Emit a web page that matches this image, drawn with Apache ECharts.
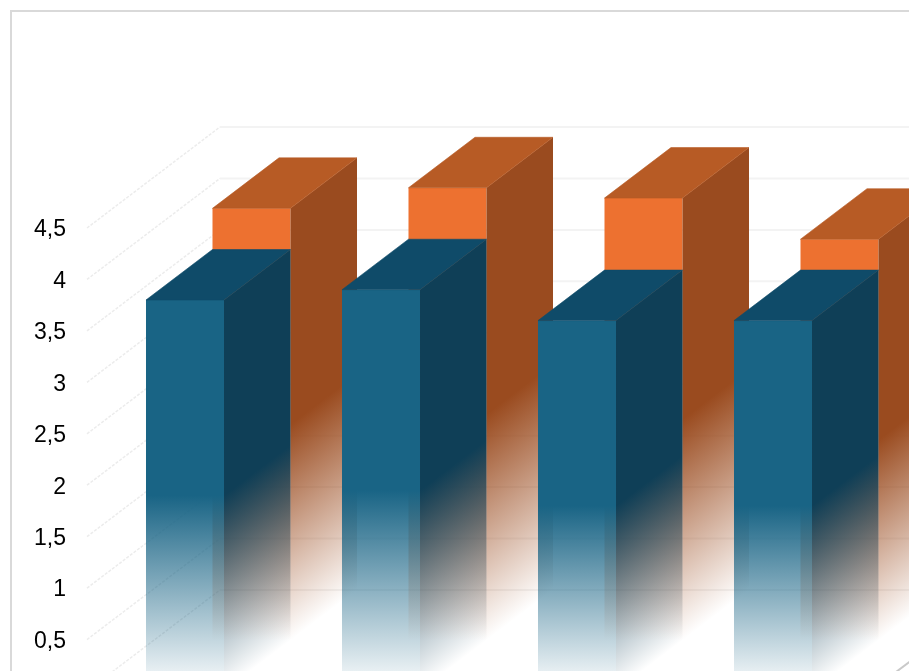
<!DOCTYPE html>
<html>
<head>
<meta charset="utf-8">
<style>
  html, body { margin: 0; padding: 0; background: #fff; overflow: hidden; }
  #chart { width: 909px; height: 671px; }
</style>
<script src="https://cdn.jsdelivr.net/npm/echarts@6/dist/echarts.min.js"></script>
</head>
<body>
<div id="chart"></div>
<script>
// Data: two series standing one behind the other on each category.
const categories = ['1', '2', '3', '4'];
const frontSeries = [3.8, 3.9, 3.6, 3.6];
const backSeries = [4.2, 4.4, 4.3, 3.9];
const axisTicks = [0, 0.5, 1, 1.5, 2, 2.5, 3, 3.5, 4, 4.5];

// Oblique projection: one series slot deep moves this far on screen.
const DEPTH_X = 66.5;
const DEPTH_Y = -50.5;
const BAR_RATIO = 0.398;

const BLUE = { front: [25, 100, 133], side: [15, 63, 87], top: '#0f4b69' };
const ORANGE = { front: [237, 113, 48], side: [154, 75, 31], top: '#b75b25' };

// Opaque down to mid-height, then fading out along the (sx,sy)->(ex,ey) line.
function fade(rgb, sx, sy, ex, ey) {
  const c = rgb.join(',');
  return {
    type: 'linear', global: true, x: sx, y: sy, x2: ex, y2: ey,
    colorStops: [
      { offset: 0, color: 'rgba(' + c + ',1)' },
      { offset: 1, color: 'rgba(' + c + ',0)' }
    ]
  };
}

function barItem(palette, slot) {
  return function (params, api) {
    const top = api.coord([api.value(0), api.value(1)]);
    const base = api.coord([api.value(0), 0]);
    const w = api.size([1, 0])[0] * BAR_RATIO;
    const ox = slot * DEPTH_X, oy = slot * DEPTH_Y;
    const l = top[0] - w / 2 + ox, r = l + w;
    const t = top[1] + oy, b = base[1] + oy;
    const bx = r + DEPTH_X, ty = t + DEPTH_Y, by = b + DEPTH_Y;
    const mid = (t + b) / 2;

    // Side face: isolines run parallel to its skewed bottom edge.
    const len = Math.hypot(DEPTH_X, DEPTH_Y);
    const nx = -DEPTH_Y / len, ny = DEPTH_X / len;
    const reach = (b - mid) * ny;

    return {
      type: 'group',
      children: [
        { type: 'polygon',
          shape: { points: [[l, t], [r, t], [r, b], [l, b]] },
          style: { fill: fade(palette.front, l, mid, l, b) } },
        { type: 'polygon',
          shape: { points: [[r, t], [bx, ty], [bx, by], [r, b]] },
          style: { fill: fade(palette.side, r, mid, r + nx * reach, mid + ny * reach) } },
        { type: 'polygon',
          shape: { points: [[l, t], [r, t], [bx, ty], [l + DEPTH_X, ty]] },
          style: { fill: palette.top, stroke: palette.top, lineWidth: 0.6 } }
      ]
    };
  };
}

// Wall grid: a receding line per tick, then along the back wall.
function wallItem(params, api) {
  const p = api.coord([0, api.value(1)]);
  const x0 = params.coordSys.x;
  const x1 = x0 + params.coordSys.width;
  const y = p[1];
  const dx = 2 * DEPTH_X, dy = 2 * DEPTH_Y;
  return {
    type: 'group',
    children: [
      { type: 'polyline',
        shape: { points: [[x0, y], [x0 + dx, y + dy]] },
        style: { fill: null, stroke: '#ececec', lineWidth: 1.5, lineDash: [3, 1.5] } },
      { type: 'polyline',
        shape: { points: [[x0 + dx, y + dy], [x1 + dx, y + dy]] },
        style: { fill: null, stroke: '#f3f3f3', lineWidth: 2 } }
    ]
  };
}

// Right-hand edge of the floor.
function floorEdgeItem(params, api) {
  const cs = params.coordSys;
  const x = cs.x + cs.width, y = api.coord([0, 0])[1];
  return {
    type: 'line',
    shape: { x1: x, y1: y, x2: x + 2 * DEPTH_X, y2: y + 2 * DEPTH_Y },
    style: { stroke: '#c9c9c9', lineWidth: 2 }
  };
}

const chart = echarts.init(document.getElementById('chart'), null, { renderer: 'canvas' });
chart.setOption({
  animation: false,
  backgroundColor: '#fff',
  graphic: [{
    type: 'rect', silent: true, z: 0,
    shape: { x: 11, y: 11, width: 1400, height: 1400 },
    style: { fill: null, stroke: '#d9d9d9', lineWidth: 2 }
  }],
  grid: { left: 87, top: 228, width: 784, height: 463, containLabel: false, outerBoundsMode: 'none' },
  xAxis: { type: 'category', data: categories, show: false },
  yAxis: {
    type: 'value', min: 0, max: 4.5, interval: 0.5,
    axisLine: { show: false }, axisTick: { show: false }, splitLine: { show: false },
    axisLabel: {
      margin: 21, color: '#000',
      formatter: v => '{tick|' + String(v).replace('.', ',') + '}',
      rich: {
        tick: {
          fontFamily: 'Liberation Sans', fontSize: 23, color: '#000',
          padding: [4, 0, 0, 0]
        }
      }
    }
  },
  series: [
    { type: 'custom', z: 1, renderItem: wallItem, silent: true,
      data: axisTicks.map(t => [0, t]), encode: { x: 0, y: 1 } },
    { type: 'custom', z: 1, renderItem: floorEdgeItem, silent: true,
      data: [[0, 0]], encode: { x: 0, y: 1 } },
    { type: 'custom', z: 2, name: 'back', renderItem: barItem(ORANGE, 1),
      data: backSeries.map((v, i) => [i, v]), encode: { x: 0, y: 1 } },
    { type: 'custom', z: 3, name: 'front', renderItem: barItem(BLUE, 0),
      data: frontSeries.map((v, i) => [i, v]), encode: { x: 0, y: 1 } }
  ]
});
</script>
</body>
</html>
